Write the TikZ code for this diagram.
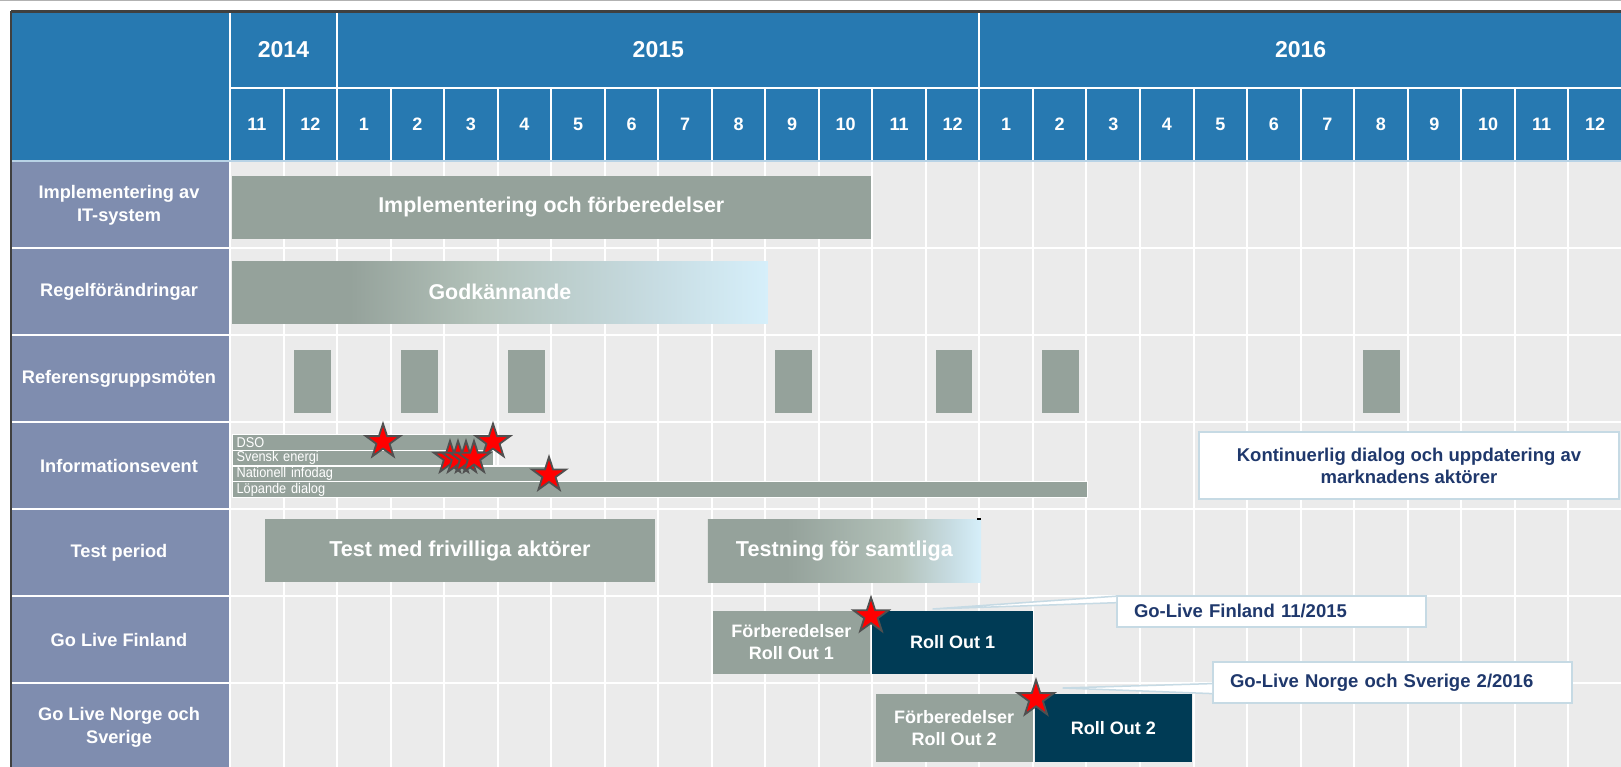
\documentclass[tikz,border=0pt]{standalone}
\usepackage{fontspec}
\setmainfont{Liberation Sans}
\newfontfamily\narrowfont[FakeStretch=0.9]{Liberation Sans}
\usetikzlibrary{shapes.geometric}

\definecolor{hdrblue}{RGB}{39,121,177}
\definecolor{rowlab}{RGB}{127,141,175}
\definecolor{cellbg}{RGB}{235,235,235}
\definecolor{barg}{RGB}{149,162,155}
\definecolor{rollnavy}{RGB}{0,59,85}
\definecolor{fadeA}{RGB}{178,193,185}
\definecolor{fadeB}{RGB}{199,220,226}
\definecolor{fadeC}{RGB}{214,239,250}
\definecolor{calloutline}{RGB}{198,218,228}
\definecolor{callouttext}{RGB}{31,56,108}
\definecolor{starline}{RGB}{80,80,80}
\definecolor{paleline}{RGB}{184,211,230}

\pgfdeclarehorizontalshading{godkshade}{100bp}{color(0bp)=(barg); color(36bp)=(barg); color(48bp)=(fadeA); color(64.5bp)=(fadeB); color(75bp)=(fadeC); color(100bp)=(fadeC)}
\pgfdeclarehorizontalshading{testshade}{100bp}{color(0bp)=(barg); color(39.5bp)=(barg); color(60bp)=(fadeA); color(69.5bp)=(fadeB); color(75bp)=(fadeC); color(100bp)=(fadeC)}

\tikzset{
  yearcell/.style={text=white, font=\bfseries\fontsize{23}{27}\selectfont},
  monthcell/.style={text=white, font=\bfseries\fontsize{18}{21}\selectfont},
  rowlabel/.style={text=white, align=center, font=\bfseries\fontsize{18.2}{23.3}\selectfont},
  ganttbar/.style={fill=barg, text=white, inner sep=0pt, font=\bfseries\fontsize{21.4}{25}\selectfont},
  meeting/.style={fill=barg, inner sep=0pt, minimum width=36.8pt, minimum height=62.7pt},
  infobar/.style={fill=barg, draw=white, line width=1.2pt, anchor=north west, text=white, inner xsep=4pt, inner ysep=0pt, minimum height=15.7pt, align=left, font=\narrowfont\fontsize{14.2}{15}\selectfont},
  prepbox/.style={fill=barg, text=white, inner sep=0pt, align=center, font=\bfseries\fontsize{18}{22}\selectfont},
  rollbox/.style={fill=rollnavy, text=white, inner sep=0pt, font=\bfseries\fontsize{18}{22}\selectfont},
  mstar/.style={star, star points=5, star point ratio=2.6, fill=red, draw=starline, line width=1.8pt, inner sep=0pt},
  notebox/.style={fill=white, draw=calloutline, line width=2pt, text=callouttext, font=\bfseries\fontsize{18.5}{22}\selectfont},
  tailline/.style={fill=white, draw=calloutline, line width=1.5pt},
}

\begin{document}
\begin{tikzpicture}[x=1pt,y=-1pt]
\useasboundingbox (0,0) rectangle (1621,767);
\fill[white] (0,0) rectangle (1621,767);
\draw[line width=1.5pt, gray!60] (0,0.75) -- (1621,0.75);

% table background
\fill[hdrblue] (12,12) rectangle (1621,161);
\fill[rowlab] (12,161) rectangle (230,767);
\fill[cellbg] (230,161) rectangle (1621,767);

% white cell lines
\draw[white, line width=2pt, xstep=53.53pt, ystep=87pt, shift={(230,161)}] (0,606) grid (1392,-73);
\draw[white, line width=2pt] (229.5,12) -- (229.5,88);
\draw[white, line width=2pt] (337.1,12) -- (337.1,88);
\draw[white, line width=2pt] (979.4,12) -- (979.4,88);
\draw[white, line width=2pt] (230,88) -- (1621,88);
\draw[white, line width=2pt] (12,248) -- (230,248);
\draw[white, line width=2pt] (12,335) -- (230,335);
\draw[white, line width=2pt] (12,422) -- (230,422);
\draw[white, line width=2pt] (12,509) -- (230,509);
\draw[white, line width=2pt] (12,596) -- (230,596);
\draw[white, line width=2pt] (12,683) -- (230,683);
\draw[paleline, line width=2pt] (12,161.5) -- (1621,161.5);
\draw[black!75, line width=2.5pt] (11,11.5) -- (1621,11.5);
\draw[black!75, line width=2.5pt] (11,11.5) -- (11,767);

% years and months
\node[yearcell] (y2014) at (283.5,50) {2014};
\node[yearcell] (y2015) at (658.3,50) {2015};
\node[yearcell] (y2016) at (1300.6,50) {2016};
\node[monthcell] (m1411) at (256.8,124.5) {11};
\node[monthcell] (m1412) at (310.3,124.5) {12};
\node[monthcell] (m1501) at (363.8,124.5) {1};
\node[monthcell] (m1502) at (417.4,124.5) {2};
\node[monthcell] (m1503) at (470.9,124.5) {3};
\node[monthcell] (m1504) at (524.4,124.5) {4};
\node[monthcell] (m1505) at (578.0,124.5) {5};
\node[monthcell] (m1506) at (631.5,124.5) {6};
\node[monthcell] (m1507) at (685.0,124.5) {7};
\node[monthcell] (m1508) at (738.5,124.5) {8};
\node[monthcell] (m1509) at (792.1,124.5) {9};
\node[monthcell] (m1510) at (845.6,124.5) {10};
\node[monthcell] (m1511) at (899.1,124.5) {11};
\node[monthcell] (m1512) at (952.7,124.5) {12};
\node[monthcell] (m1601) at (1006.2,124.5) {1};
\node[monthcell] (m1602) at (1059.7,124.5) {2};
\node[monthcell] (m1603) at (1113.3,124.5) {3};
\node[monthcell] (m1604) at (1166.8,124.5) {4};
\node[monthcell] (m1605) at (1220.3,124.5) {5};
\node[monthcell] (m1606) at (1273.8,124.5) {6};
\node[monthcell] (m1607) at (1327.4,124.5) {7};
\node[monthcell] (m1608) at (1380.9,124.5) {8};
\node[monthcell] (m1609) at (1434.4,124.5) {9};
\node[monthcell] (m1610) at (1488.0,124.5) {10};
\node[monthcell] (m1611) at (1541.5,124.5) {11};
\node[monthcell] (m1612) at (1595.0,124.5) {12};

% row labels
\node[rowlabel] (labImpl) at (119,205) {Implementering av\\IT-system};
\node[rowlabel] (labRegel) at (119,291.5) {Regelförändringar};
\node[rowlabel] (labRef) at (119,378.5) {Referensgruppsmöten};
\node[rowlabel] (labInfo) at (119,465.5) {Informationsevent};
\node[rowlabel] (labTest) at (119,552.5) {Test period};
\node[rowlabel] (labFin) at (119,639.5) {Go Live Finland};
\node[rowlabel] (labNor) at (119,727) {Go Live Norge och\\Sverige};

% bars
\node[ganttbar, minimum width=638.5pt, minimum height=63pt] (impl) at (551.3,207.5) {Implementering och förberedelser};
\node[ganttbar, shade, shading=godkshade, minimum width=535.7pt, minimum height=62.5pt] (godk) at (499.9,292.3) {Godkännande};
\node[meeting] (mote1) at (312.5,381.4) {};
\node[meeting] (mote2) at (419.4,381.4) {};
\node[meeting] (mote3) at (526.3,381.4) {};
\node[meeting] (mote4) at (793.5,381.4) {};
\node[meeting] (mote5) at (953.9,381.4) {};
\node[meeting] (mote6) at (1060.8,381.4) {};
\node[meeting] (mote7) at (1381.5,381.4) {};
\node[infobar, text width=253.3pt] (dso) at (232,434) {DSO};
\node[infobar, text width=253.3pt] (svensk) at (232,449.7) {Svensk energi};
\node[infobar, text width=305pt] (nationell) at (232,465.4) {Nationell infodag};
\node[infobar, text width=847pt] (lopande) at (232,481.1) {Löpande dialog};
\node[notebox, align=center, minimum width=420pt, minimum height=67.6pt, inner sep=0pt] (kont) at (1409,465.5) {Kontinuerlig dialog och uppdatering av\\marknadens aktörer};
\node[ganttbar, minimum width=390.3pt, minimum height=63pt, font=\bfseries\fontsize{21.6}{25}\selectfont] (frivillig) at (459.9,550.5) {Test med frivilliga aktörer};
\node[ganttbar, shade, shading=testshade, minimum width=273.3pt, minimum height=63pt, font=\bfseries\fontsize{21.6}{25}\selectfont] (samtliga) at (844.4,550.5) {Testning för samtliga};
\fill[black] (976.5,518.3) rectangle (981,520.3);

% go live
\node[prepbox, minimum width=157.5pt, minimum height=63pt] (prep1) at (791.3,642.2) {Förberedelser\\Roll Out 1};
\node[rollbox, minimum width=160.2pt, minimum height=63pt] (roll1) at (952.5,642.2) {Roll Out 1};
\node[prepbox, minimum width=156.8pt, minimum height=67.7pt] (prep2) at (954.2,727.9) {Förberedelser\\Roll Out 2};
\node[rollbox, minimum width=156.7pt, minimum height=67.7pt] (roll2) at (1113.4,727.9) {Roll Out 2};

% callouts
\coordinate (finTip) at (932.6,609);
\coordinate (norTip) at (1062.7,688);
\node[notebox, minimum width=309pt, minimum height=31pt, inner xsep=17pt, inner ysep=0pt, text width=275pt, align=left] (fin) at (1271.5,611.2) {Go-Live Finland 11/2015};
\node[notebox, minimum width=359pt, minimum height=40.7pt, inner xsep=17pt, inner ysep=0pt, text width=325pt, align=left] (nor) at (1392.5,682.6) {Go-Live Norge och Sverige 2/2016};
\filldraw[tailline] ([yshift=-1.5pt]fin.north west) -- (finTip) -- ([yshift=-8pt]fin.north west);
\filldraw[tailline] ([yshift=-1pt]nor.west) -- (norTip) -- ([yshift=-11pt]nor.west);

% stars
\node[mstar, minimum size=36pt] (starDso) at (383,441.7) {};
\node[mstar, minimum size=36pt] (starDso2) at (493,441.7) {};
\node[mstar, minimum size=34pt] (starSv1) at (450,458) {};
\node[mstar, minimum size=34pt] (starSv2) at (458,458) {};
\node[mstar, minimum size=34pt] (starSv3) at (466,458) {};
\node[mstar, minimum size=34pt] (starSv4) at (474,458) {};
\node[mstar, minimum size=36pt] (starNat) at (549,475) {};
\node[mstar, minimum size=37pt] (starFin) at (871,616) {};
\node[mstar, minimum size=38pt] (starNor) at (1036,699) {};
\end{tikzpicture}
\end{document}
